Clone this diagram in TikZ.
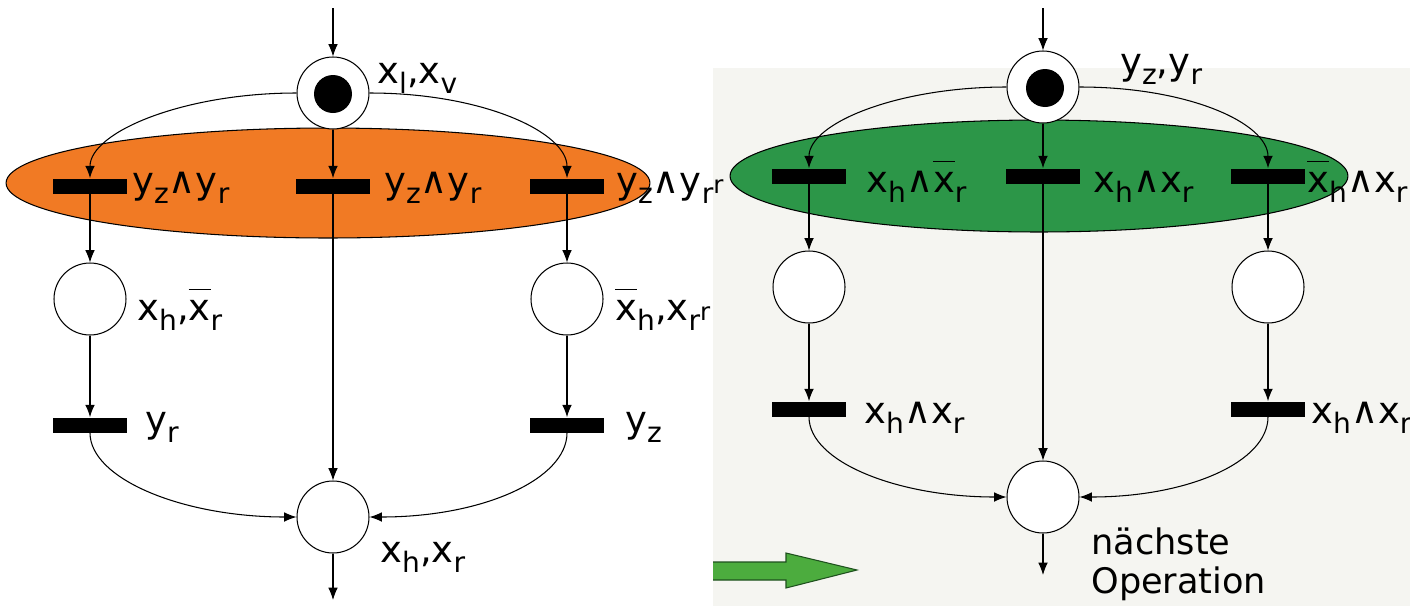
\documentclass[tikz,border=0pt]{standalone}
\usepackage{fontspec}
\setmainfont{DejaVu Sans}
\usetikzlibrary{arrows.meta}
\definecolor{orangefill}{RGB}{241,122,36}
\definecolor{greenfill}{RGB}{44,150,72}
\definecolor{arrowgreen}{RGB}{76,172,62}
\definecolor{arrowedge}{RGB}{30,80,30}
\definecolor{panelgray}{RGB}{245,245,241}
\newcommand\sbs[1]{\raisebox{-0.5ex}{\fontsize{16}{16}\selectfont #1}}
\newcommand\ovl[1]{$\overline{\hbox{\vphantom{l}#1}}$}
\newcommand\strayr{\raisebox{0ex}{\fontsize{14}{14}\selectfont r}}
\begin{document}
\begin{tikzpicture}[x=0.02cm,y=-0.02cm,
  place/.style={circle,draw,line width=0.6pt,minimum size=1.44cm,inner sep=0pt,fill=white},
  bar/.style={rectangle,fill=black,minimum width=1.48cm,minimum height=0.3cm,inner sep=0pt},
  token/.style={circle,fill=black,minimum size=0.76cm,inner sep=0pt},
  lbl/.style={anchor=base west,inner sep=0pt,font=\fontsize{21}{24}\selectfont},
  arc/.style={line width=0.6pt,-{Latex[length=7pt,width=5.5pt]}}]
\useasboundingbox (0,0) rectangle (1410,606);
\clip (0,0) rectangle (1410,606);
\fill[white] (0,0) rectangle (1410,606);
% right panel background
\fill[panelgray] (713,68) rectangle (1410,606);

% ================= LEFT NET =================
\draw[fill=orangefill,line width=0.6pt] (328,183) ellipse [x radius=6.44cm, y radius=1.1cm];
\node[place] (L0) at (333,93) {};
\node[token] (L0t) at (333,94) {};
\coordinate (Lin) at (333,8);
\node[lbl] (L0l) at (377,83) {x\sbs{l},x\sbs{v}};

\node[bar] (LT1) at (90,186) {};
\node[bar] (LT2) at (333,186) {};
\node[bar] (LT3) at (567,186) {};
\node[lbl] (LT1l) at (132,193) {y\sbs{z}∧y\sbs{r}};
\node[lbl] (LT2l) at (384,193) {y\sbs{z}∧y\sbs{r}};
\node[lbl] (LT3l) at (616,193) {y\sbs{z}∧y\sbs{r}\strayr};

\node[place] (LP1) at (90,299) {};
\node[place] (LP2) at (567,299) {};
\node[lbl] (LP1l) at (137,320) {x\sbs{h},\ovl{x}\sbs{r}};
\node[lbl] (LP2l) at (615,320) {\ovl{x}\sbs{h},x\sbs{r}\strayr};

\node[bar] (LB1) at (90,425) {};
\node[bar] (LB2) at (567,425) {};
\node[lbl] (LB1l) at (145,432) {y\sbs{r}};
\node[lbl] (LB2l) at (625,432) {y\sbs{z}};

\node[place] (L9) at (333,517) {};
\node[lbl] (L9l) at (380,562) {x\sbs{h},x\sbs{r}};
\coordinate (Lout) at (333,600);

\draw[arc] (Lin) -- (L0);
\draw[arc] (L0.west) .. controls +(-113,0) and +(0,-46) .. (LT1.north);
\draw[arc] (L0.east) .. controls +(113,0) and +(0,-46) .. (LT3.north);
\draw[arc] (L0) -- (LT2);
\draw[arc] (LT1) -- (LP1);
\draw[arc] (LT3) -- (LP2);
\draw[arc] (LP1) -- (LB1);
\draw[arc] (LP2) -- (LB2);
\draw[arc] (LT2) -- (L9);
\draw[arc] (LB1.south) .. controls +(0,46) and +(-114,0) .. (L9.west);
\draw[arc] (LB2.south) .. controls +(0,46) and +(114,0) .. (L9.east);
\draw[arc] (L9) -- (Lout);

% ================= RIGHT NET =================
\draw[fill=greenfill,line width=0.6pt] (1039,176) ellipse [x radius=6.18cm, y radius=1.12cm];
\node[place] (R0) at (1043,87) {};
\node[token] (R0t) at (1045,88) {};
\coordinate (Rin) at (1043,8);
\node[lbl] (R0l) at (1120,74) {y\sbs{z},y\sbs{r}};

\node[bar] (RT1) at (809,176) {};
\node[bar] (RT2) at (1043,176) {};
\node[bar] (RT3) at (1268,176) {};
\node[lbl] (RT1l) at (866,192) {x\sbs{h}∧\ovl{x}\sbs{r}};
\node[lbl] (RT2l) at (1093,192) {x\sbs{h}∧x\sbs{r}};
\node[lbl] (RT3l) at (1307,192) {\ovl{x}\sbs{h}∧x\sbs{r}};

\node[place] (RP1) at (809,287) {};
\node[place] (RP2) at (1268,287) {};

\node[bar] (RB1) at (809,409) {};
\node[bar] (RB2) at (1268,409) {};
\node[lbl] (RB1l) at (864,423) {x\sbs{h}∧x\sbs{r}};
\node[lbl] (RB2l) at (1311,423) {x\sbs{h}∧x\sbs{r}};

\node[place] (R9) at (1043,497) {};
\coordinate (Rout) at (1043,575);
\node[anchor=north west,inner sep=0pt,align=left,font=\fontsize{20}{22.7}\selectfont] (R9l) at (1091,527) {nächste\\Operation};

\draw[arc] (Rin) -- (R0);
\draw[arc] (R0.west) .. controls +(-109,0) and +(0,-45) .. (RT1.north);
\draw[arc] (R0.east) .. controls +(109,0) and +(0,-45) .. (RT3.north);
\draw[arc] (R0) -- (RT2);
\draw[arc] (RT1) -- (RP1);
\draw[arc] (RT3) -- (RP2);
\draw[arc] (RP1) -- (RB1);
\draw[arc] (RP2) -- (RB2);
\draw[arc] (RT2) -- (R9);
\draw[arc] (RB1.south) .. controls +(0,45) and +(-109,0) .. (R9.west);
\draw[arc] (RB2.south) .. controls +(0,45) and +(109,0) .. (R9.east);
\draw[arc] (R9) -- (Rout);

% green block arrow
\draw[fill=arrowgreen,draw=arrowedge,line width=0.6pt]
  (713,562) -- (786,562) -- (786,553) -- (857,570) -- (786,588) -- (786,580) -- (713,580);
\end{tikzpicture}
\end{document}
